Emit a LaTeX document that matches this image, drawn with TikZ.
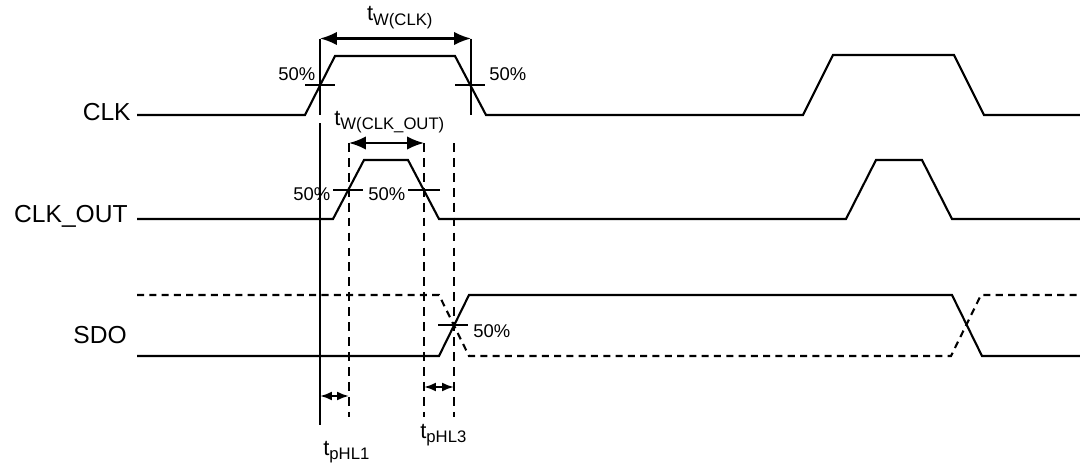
\documentclass[tikz,border=0pt]{standalone}
\usepackage{fontspec}
\setmainfont{Liberation Sans}
\usetikzlibrary{arrows.meta}
\newcommand{\tsub}[1]{{\fontsize{12.5}{14}\selectfont t}\raisebox{-2.8pt}{\fontsize{9.5}{11}\selectfont #1}}
\begin{document}
\begin{tikzpicture}[x=0.02cm,y=-0.02cm,
  sig/.style={line width=1.2pt, line join=miter},
  dsig/.style={sig, dash pattern=on 4pt off 3pt},
  vsolid/.style={line width=1.2pt},
  vdash/.style={line width=1.2pt, dash pattern=on 5pt off 3.5pt},
  tickmark/.style={line width=0.9pt},
  dimbig/.style={line width=1.2pt, {Latex[length=0.34cm,width=0.27cm]}-{Latex[length=0.34cm,width=0.27cm]}},
  dimsmall/.style={line width=1.2pt, {Latex[length=0.24cm,width=0.18cm]}-{Latex[length=0.24cm,width=0.18cm]}},
  siglabel/.style={font=\fontsize{14}{16}\selectfont, anchor=base east, inner sep=0pt},
  pct/.style={font=\fontsize{10.5}{12}\selectfont, anchor=base west, inner sep=0pt},
  tlabel/.style={anchor=base west, inner sep=0pt}
]
\useasboundingbox (0,0) rectangle (1080,463);

% signal names
\node[siglabel] (lclk) at (131,120.7) {CLK};
\node[siglabel] (lclkout) at (128,222.5) {CLK\_OUT};
\node[siglabel] (lsdo) at (127,343) {SDO};

% waveforms
\draw[sig] (137,115) -- (305,115) -- (335,56) -- (455,56) -- (486,115) -- (803,115) -- (833,55) -- (954,55) -- (984,115) -- (1080,115);
\draw[sig] (137,219) -- (333,219) -- (364,160) -- (408,160) -- (439,219) -- (846,219) -- (876,160) -- (922,160) -- (952,219) -- (1080,219);
\draw[sig] (137,356) -- (439,356) -- (469,295) -- (952,295) -- (982,356) -- (1080,356);
\draw[dsig] (137,295) -- (439,295) -- (469,356) -- (951,356) -- (981,295) -- (1077,295);

% 50% ticks
\draw[tickmark] (305,85) -- (335,85);
\draw[tickmark] (455,85) -- (485,85);
\draw[tickmark] (333,190) -- (363,190);
\draw[tickmark] (408,190) -- (440,190);
\draw[tickmark] (438,325) -- (468,325);

\node[pct] (p1) at (278,80) {50\%};
\node[pct] (p2) at (489,80) {50\%};
\node[pct] (p3) at (293,200.7) {50\%};
\node[pct] (p4) at (368,200.7) {50\%};
\node[pct] (p5) at (473,337) {50\%};

% reference lines
\coordinate (v1t) at (320,38.5);
\coordinate (v1m) at (320,115);
\coordinate (v1n) at (320,123);
\coordinate (v1b) at (320,425);
\coordinate (v2t) at (471,38.5);
\coordinate (v2b) at (471,115);
\coordinate (d1t) at (349,143);
\coordinate (d1b) at (349,417);
\coordinate (d2t) at (424,143);
\coordinate (d2b) at (424,417);
\coordinate (d3t) at (454,143);
\coordinate (d3b) at (454,417);

\draw[vsolid] (v1t) -- (v1m);
\draw[vsolid] (v1n) -- (v1b);
\draw[vsolid] (v2t) -- (v2b);
\draw[vdash] (d1t) -- (d1b);
\draw[vdash] (d2t) -- (d2b);
\draw[vdash] (d3t) -- (d3b);

% dimension arrows
\coordinate (a1) at (320,396);
\coordinate (a2) at (349,396);
\coordinate (b1) at (424,387);
\coordinate (b2) at (454,387);
\draw[dimbig] (v1t) -- (v2t);
\draw[dimbig] (d1t) -- (d2t);
\draw[dimsmall] (a1) -- (a2);
\draw[dimsmall] (b1) -- (b2);

% timing labels
\node[tlabel] (twclk) at (366.7,20.7) {\tsub{W(CLK)}};
\node[tlabel] (twclkout) at (334,125) {\tsub{W(CLK\_OUT)}};
\node[tlabel] (tphl1) at (323,455) {\tsub{pHL1}};
\node[tlabel] (tphl3) at (420,438) {\tsub{pHL3}};
\end{tikzpicture}
\end{document}
